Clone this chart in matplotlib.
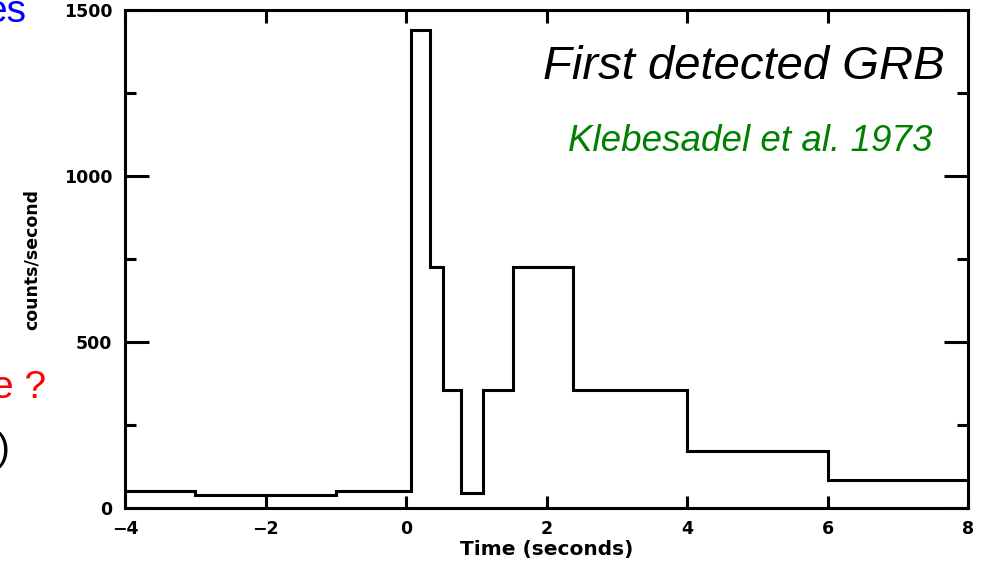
import matplotlib
matplotlib.use("Agg")
import matplotlib.pyplot as plt
from matplotlib.ticker import MultipleLocator

# Bin edges (seconds) and count rates (counts/second)
edges = [-4, -3, -1, 0.07, 0.34, 0.53, 0.78, 1.09, 1.53, 2.38, 4, 6, 8]
rates = [50, 38, 51, 1440, 727, 355, 45, 355, 727, 355, 172, 84]

xticks = [-4, -2, 0, 2, 4, 6, 8]
xticklabels = ["\u22124", "\u22122", "0", "2", "4", "6", "8"]
yticks = [0, 500, 1000, 1500]

W, H = 981, 566
fig = plt.figure(figsize=(W / 100, H / 100), dpi=100)
ax = fig.add_axes([125 / W, 1 - 508 / H, (968 - 125) / W, (508 - 10) / H])

ax.stairs(rates, edges, color="black", lw=2.2, baseline=None)

ax.set_xlim(-4, 8)
ax.set_ylim(0, 1500)
ax.set_xticks(xticks)
ax.set_xticklabels(xticklabels)
ax.set_yticks(yticks)
ax.yaxis.set_minor_locator(MultipleLocator(250))
for s in ax.spines.values():
    s.set_linewidth(2.2)

ax.tick_params(which="both", direction="in", top=True, right=True, width=2.2,
               colors="black")
ax.tick_params(axis="x", which="major", length=9, pad=9)
ax.tick_params(axis="y", which="major", length=17, pad=9)
ax.tick_params(axis="y", which="minor", length=8)
for lab in ax.get_xticklabels() + ax.get_yticklabels():
    lab.set_fontfamily("DejaVu Sans")
    lab.set_fontsize(12.5)
    lab.set_fontweight("bold")

ax.set_xlabel("Time (seconds)", fontsize=14.5, family="DejaVu Sans",
              fontweight="bold", labelpad=1)
ax.set_ylabel("counts/second", fontsize=12.5, family="DejaVu Sans",
              fontweight="bold")
ax.yaxis.set_label_coords(-0.100, 0.50)

ax.text(945 / W, 1 - 79 / H, "First detected GRB", transform=fig.transFigure,
        ha="right", va="baseline", fontsize=34, style="italic",
        family="Liberation Sans", color="black")
ax.text(933 / W, 1 - 151 / H, "Klebesadel et al. 1973", transform=fig.transFigure,
        ha="right", va="baseline", fontsize=26.5, style="italic",
        family="Liberation Sans", color="#008000")

# Partial slide text cut off at the left edge
fig.text(26 / W, 1 - 22 / H, "es", ha="right", va="baseline", fontsize=28,
         family="Liberation Sans", color="#0000ff")
fig.text(46 / W, 1 - 398 / H, "e ?", ha="right", va="baseline", fontsize=28,
         family="Liberation Sans", color="#ff0000")
fig.text(10 / W, 1 - 460 / H, ")", ha="right", va="baseline", fontsize=28,
         family="Liberation Sans", color="black")

fig.savefig("out.png", dpi=100)
